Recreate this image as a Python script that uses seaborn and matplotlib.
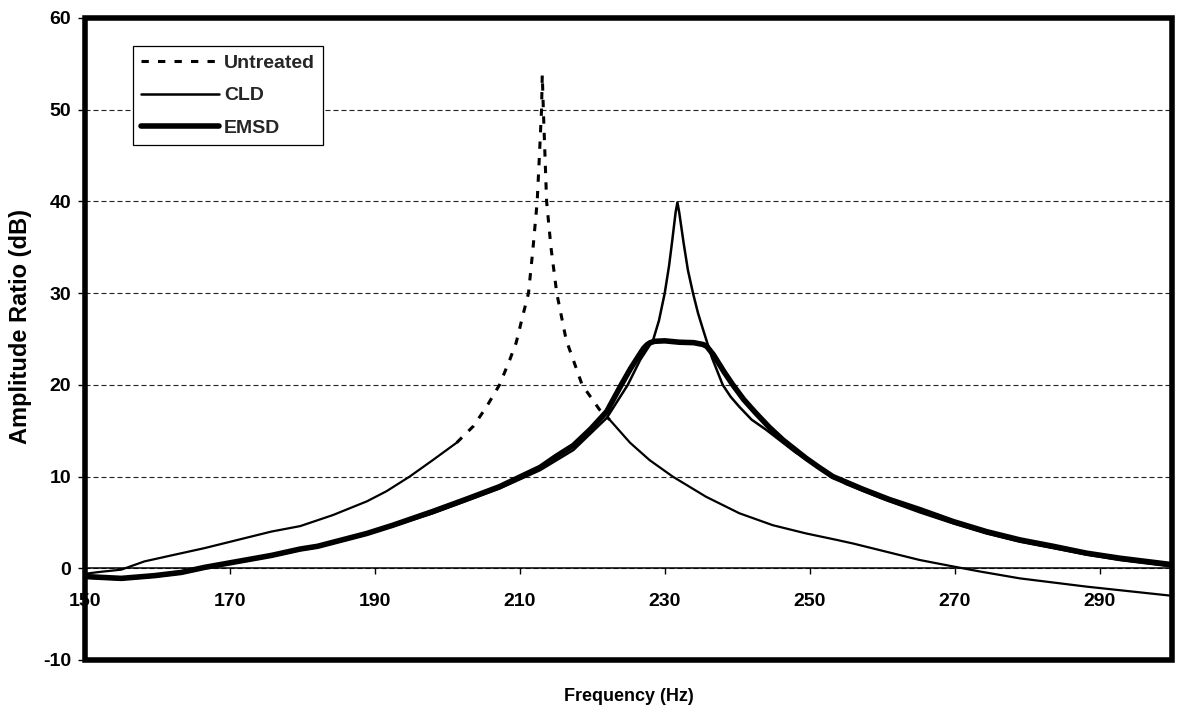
import numpy as np
import pandas as pd
import matplotlib
matplotlib.use("Agg")
import matplotlib.pyplot as plt
import seaborn as sns
from matplotlib.patches import Rectangle

# ---------------- data ----------------
untreated_freq = [150, 152, 155, 158.2, 161.9, 166.5, 171.1, 175.7, 179.7, 184.2,
                  188.9, 191.6, 194.8, 198.0, 201.3, 203.6, 205.4, 207.2, 208.6, 209.5,
                  210.4, 211.2, 211.8, 212.4, 212.7, 213.0, 213.1, 213.25, 213.7, 214.3,
                  215.1, 216.4, 218.6, 221.0, 222.4, 225.2, 227.9, 231.1, 235.7, 240.3,
                  244.9, 249.5, 253.7, 256.0, 260.6, 265.2, 269.8, 273.5, 279.0, 288.2, 300]
untreated_db = [-0.6, -0.4, -0.15, 0.75, 1.4, 2.2, 3.1, 4.0, 4.6, 5.8,
                7.3, 8.4, 10.0, 11.8, 13.7, 15.5, 17.6, 20.0, 22.7, 24.6,
                27.5, 30.0, 34.7, 40.0, 44.9, 50.0, 53.8, 50.0, 40.0, 35.0,
                30.0, 24.9, 20.0, 17.3, 16.2, 13.7, 11.8, 10.0, 7.8, 6.0,
                4.7, 3.8, 3.1, 2.7, 1.8, 0.9, 0.2, -0.35, -1.1, -2.0, -3.0]

cld_freq = [150, 155, 159.6, 163.3, 166.5, 171.1, 175.7, 179.7, 182.1, 188.9,
            198.0, 207.2, 212.8, 217.4, 222.0, 224.9, 226.6, 228.4, 229.2, 230.0,
            230.6, 231.0, 231.5, 231.75, 232.0, 232.6, 233.2, 233.9, 234.6, 235.3,
            236.5, 238.0, 239.1, 240.3, 242.0, 244.0, 248.1, 251.8, 255.0, 260.0,
            265.2, 269.8, 274.4, 279.0, 283.6, 288.2, 292.8, 300]
cld_db = [-1.0, -1.2, -0.9, -0.55, 0.0, 0.65, 1.3, 2.0, 2.3, 3.7,
          6.0, 8.7, 10.7, 12.9, 16.4, 20.0, 22.7, 24.9, 27.0, 30.0,
          33.0, 35.5, 38.8, 39.9, 38.8, 35.5, 32.5, 30.0, 27.8, 26.0,
          23.0, 20.0, 18.7, 17.6, 16.2, 15.1, 12.6, 10.7, 9.2, 7.6,
          6.1, 4.9, 3.8, 2.9, 2.2, 1.5, 0.9, 0.2]

emsd_freq = [150, 155, 159.6, 163.3, 166.5, 171.1, 175.7, 179.7, 182.1, 185.5,
             188.9, 192.5, 198.0, 202.5, 207.2, 212.8, 215.0, 217.4, 219.8, 222.0,
             224.0, 225.3, 226.6, 227.1, 227.6, 228.0, 228.6, 230.0, 232.0, 234.0,
             235.3, 235.8, 236.7, 238.2, 239.4, 240.9, 242.6, 244.4, 246.3, 247.9,
             249.5, 251.3, 253.2, 255.3, 257.4, 261.0, 265.2, 269.8, 274.4, 279.0,
             283.6, 288.2, 292.8, 300]
emsd_db = [-0.9, -1.1, -0.8, -0.45, 0.1, 0.75, 1.4, 2.1, 2.4, 3.1,
           3.8, 4.7, 6.2, 7.5, 8.9, 11.0, 12.2, 13.4, 15.2, 17.1,
           20.0, 21.8, 23.4, 24.0, 24.4, 24.6, 24.75, 24.8, 24.65, 24.6,
           24.4, 24.2, 23.3, 21.4, 20.0, 18.4, 16.9, 15.4, 14.0, 13.0,
           12.0, 11.0, 10.0, 9.3, 8.6, 7.5, 6.4, 5.1, 4.0, 3.1,
           2.4, 1.65, 1.1, 0.4]

x_ticks = [150, 170, 190, 210, 230, 250, 270, 290]
y_ticks = [-10, 0, 10, 20, 30, 40, 50, 60]
series_labels = ["Untreated", "CLD", "EMSD"]
x_label = "Frequency (Hz)"
y_label = "Amplitude Ratio (dB)"

# ---------------- style ----------------
sns.set_theme(style="white")
plt.rcParams["font.family"] = ["Liberation Sans", "DejaVu Sans"]
plt.rcParams["font.weight"] = "bold"

W, H = 1177, 712
fig = plt.figure(figsize=(W / 100, H / 100), dpi=100)
fig.patch.set_facecolor("white")
ax = fig.add_axes([85 / W, 52 / H, 1087 / W, 642 / H])
ax.set_facecolor("white")

untreated = pd.DataFrame({"f": untreated_freq, "db": untreated_db})
dotted_mask = (untreated["f"] >= 201.3) & (untreated["f"] <= 222.4)
left_mask = untreated["f"] <= 201.3
right_mask = untreated["f"] >= 222.4

dot_style = (0, (2.4, 3.0))

# untreated: thin solid tails, dotted near the resonance (as printed)
sns.lineplot(data=untreated[left_mask], x="f", y="db", ax=ax, color="black",
             linewidth=1.6, estimator=None, sort=False)
sns.lineplot(data=untreated[right_mask], x="f", y="db", ax=ax, color="black",
             linewidth=1.6, estimator=None, sort=False)
n0 = len(ax.lines)
sns.lineplot(data=untreated[dotted_mask], x="f", y="db", ax=ax, color="black",
             linewidth=2.2, linestyle=dot_style, estimator=None, sort=False)
h_untreated = ax.lines[n0]

n0 = len(ax.lines)
sns.lineplot(x=cld_freq, y=cld_db, ax=ax, color="black", linewidth=1.8,
             estimator=None, sort=False)
h_cld = ax.lines[n0]

n0 = len(ax.lines)
sns.lineplot(x=emsd_freq, y=emsd_db, ax=ax, color="black", linewidth=4.0,
             estimator=None, sort=False, solid_capstyle="round",
             solid_joinstyle="round")
h_emsd = ax.lines[n0]

# ---------------- axes ----------------
ax.set_xlim(150, 300)
ax.set_ylim(-10, 60)
ax.set_xticks(x_ticks)
ax.set_yticks(y_ticks)
ax.set_xticklabels([str(t) for t in x_ticks])
ax.set_yticklabels([str(t) for t in y_ticks])

for s in ["top", "left", "right"]:
    ax.spines[s].set_visible(False)
ax.spines["bottom"].set_position(("data", 0))
ax.spines["bottom"].set_linewidth(1.1)
ax.spines["bottom"].set_color("black")
ax.spines["bottom"].set_visible(True)

ax.tick_params(axis="x", bottom=True, direction="out", length=4, width=1,
               color="black", pad=13.5, labelsize=14, labelcolor="black")
ax.tick_params(axis="y", left=True, direction="out", length=5, width=1,
               color="black", pad=5, labelsize=14, labelcolor="black")
for lab in ax.get_xticklabels() + ax.get_yticklabels():
    lab.set_fontweight("bold")

ax.yaxis.grid(True, linestyle=(0, (4.5, 2.7)), linewidth=0.8, color="#222222")
ax.xaxis.grid(False)
ax.set_axisbelow(True)

frame = Rectangle((0, 0), 1, 1, transform=ax.transAxes, fill=False,
                  edgecolor="black", linewidth=4.0, clip_on=False, zorder=10)
ax.add_patch(frame)

ax.set_xlabel(x_label, fontsize=13, fontweight="bold", color="black")
ax.xaxis.set_label_coords(0.5, -0.043)
ax.set_ylabel(y_label, fontsize=17, fontweight="bold", color="black")
ax.yaxis.set_label_coords(-0.049, 0.52)

leg = ax.legend([h_untreated, h_cld, h_emsd], series_labels,
                loc="upper left", bbox_to_anchor=(0.044, 0.956), borderaxespad=0,
                frameon=True, fancybox=False, edgecolor="black", framealpha=1,
                handlelength=4.0, handletextpad=0.25, labelspacing=0.75,
                borderpad=0.43, prop={"size": 14, "weight": "bold"})
leg.get_frame().set_linewidth(0.9)
leg.set_zorder(12)

fig.savefig("out.png", dpi=100, facecolor="white")
